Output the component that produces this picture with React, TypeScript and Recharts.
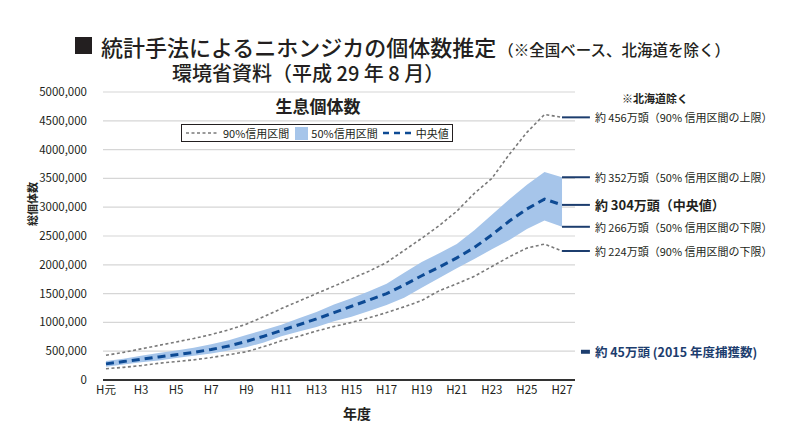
import React from "react";
import {
  ComposedChart,
  Area,
  Line,
  XAxis,
  YAxis,
  CartesianGrid,
  ReferenceLine,
  Label,
} from "recharts";

// ---- data ----
const years = [1, 2, 3, 4, 5, 6, 7, 8, 9, 10, 11, 12, 13, 14, 15, 16, 17, 18, 19, 20, 21, 22, 23, 24, 25, 26, 27];
const upper90 = [430000, 480000, 540000, 600000, 660000, 720000, 790000, 870000, 970000, 1100000, 1240000, 1370000, 1500000, 1630000, 1760000, 1890000, 2040000, 2250000, 2460000, 2680000, 2930000, 3240000, 3500000, 3920000, 4300000, 4610000, 4560000];
const upper50 = [330000, 370000, 420000, 470000, 510000, 560000, 620000, 690000, 780000, 870000, 960000, 1070000, 1180000, 1310000, 1420000, 1540000, 1670000, 1860000, 2050000, 2200000, 2360000, 2600000, 2870000, 3140000, 3390000, 3610000, 3520000];
const median = [280000, 320000, 360000, 400000, 440000, 480000, 530000, 590000, 670000, 760000, 860000, 960000, 1060000, 1170000, 1280000, 1390000, 1500000, 1650000, 1810000, 1960000, 2120000, 2300000, 2520000, 2760000, 2970000, 3140000, 3040000];
const lower50 = [230000, 270000, 310000, 340000, 380000, 420000, 460000, 510000, 570000, 650000, 760000, 840000, 920000, 1020000, 1100000, 1200000, 1300000, 1430000, 1600000, 1770000, 1940000, 2100000, 2270000, 2430000, 2620000, 2770000, 2660000];
const lower90 = [195000, 220000, 250000, 290000, 320000, 350000, 390000, 440000, 490000, 580000, 680000, 760000, 850000, 930000, 1000000, 1080000, 1170000, 1270000, 1380000, 1550000, 1670000, 1800000, 1970000, 2140000, 2290000, 2360000, 2240000];

const xTicks = [1, 3, 5, 7, 9, 11, 13, 15, 17, 19, 21, 23, 25, 27];
const xTickLabels = ["H元", "H3", "H5", "H7", "H9", "H11", "H13", "H15", "H17", "H19", "H21", "H23", "H25", "H27"];
const yTicks = [0, 500000, 1000000, 1500000, 2000000, 2500000, 3000000, 3500000, 4000000, 4500000, 5000000];

const endLabels = [
  { value: 4560000, text: "約 456万頭（90% 信用区間の上限）", bold: false },
  { value: 3520000, text: "約 352万頭（50% 信用区間の上限）", bold: false },
  { value: 3040000, text: "約 304万頭（中央値）", bold: true },
  { value: 2660000, text: "約 266万頭（50% 信用区間の下限）", bold: false },
  { value: 2240000, text: "約 224万頭（90% 信用区間の下限）", bold: false },
];
const captureValue = 490000;
const captureText = "約 45万頭 (2015 年度捕獲数)";

const data = years.map((y, i) => ({
  year: y,
  hi90: upper90[i],
  band: [lower50[i], upper50[i]],
  mid: median[i],
  lo90: lower90[i],
}));

const FONT = '"Noto Sans CJK JP", "Noto Sans", sans-serif';
const NAVY = "#1c3d6e";
const TEXT = "#231f20";

const fmtY = (v: number) => (v === 0 ? "0" : `${Math.round(v / 1000)},000`);
const fmtX = (v: number) => xTickLabels[xTicks.indexOf(v)] ?? "";

export default function App() {
  return (
    <div style={{ position: "absolute", left: 0, top: 0, width: 800, height: 438, background: "#fff", fontFamily: FONT, color: TEXT }}>
      {/* Title */}
      <div style={{ position: "absolute", left: 75, top: 37, width: 17, height: 17, background: TEXT }} />
      <div style={{ position: "absolute", left: 101, top: 35, whiteSpace: "nowrap", fontSize: 22, lineHeight: "23px", fontWeight: 500 }}>
        統計手法によるニホンジカの個体数推定
        <span style={{ fontSize: 15.5, marginLeft: 2 }}>（※全国ベース、北海道を除く）</span>
      </div>
      <div style={{ position: "absolute", left: 172, top: 62, whiteSpace: "nowrap", fontSize: 20, lineHeight: "21px", fontWeight: 500 }}>
        環境省資料（平成 29 年 8 月）
      </div>

      <ComposedChart
        width={800}
        height={438}
        data={data}
        margin={{ top: 92, right: 225, bottom: 28, left: 0 }}
        style={{ position: "absolute", left: 0, top: 0 }}
      >
        <CartesianGrid vertical={false} stroke="#d6d6d6" strokeWidth={1.2} />
        <XAxis
          dataKey="year"
          type="number"
          domain={[0.83, 27.74]}
          ticks={xTicks}
          tickFormatter={fmtX}
          interval={0}
          height={30}
          tickLine={false}
          tickMargin={0}
          axisLine={{ stroke: "#333", strokeWidth: 2 }}
          tick={{ fontSize: 11.5, fill: TEXT, fontFamily: FONT }}
        >
          <Label
            content={() => (
              <text x={357} y={413} textAnchor="middle" dominantBaseline="central" fontSize={14} fontWeight={700} fill={TEXT} fontFamily={FONT}>
                年度
              </text>
            )}
          />
        </XAxis>
        <YAxis
          type="number"
          domain={[0, 5000000]}
          ticks={yTicks}
          tickFormatter={fmtY}
          width={103}
          axisLine={false}
          tickLine={false}
          tickMargin={10}
          tick={{ fontSize: 11.5, fill: TEXT, fontFamily: FONT }}
        >
          <Label
            content={() => (
              <text x={32} y={204} transform="rotate(-90 32 204)" textAnchor="middle" dominantBaseline="central" fontSize={11} fontWeight={700} fill={TEXT} fontFamily={FONT}>
                総個体数
              </text>
            )}
          />
        </YAxis>

        <Area dataKey="band" stroke="none" fill="#a6c5ea" fillOpacity={1} isAnimationActive={false} dot={false} activeDot={false} />
        <Line dataKey="hi90" stroke="#7a7a7a" strokeWidth={1.6} strokeDasharray="3 2.5" dot={false} activeDot={false} isAnimationActive={false} />
        <Line dataKey="lo90" stroke="#7a7a7a" strokeWidth={1.6} strokeDasharray="3 2.5" dot={false} activeDot={false} isAnimationActive={false} />
        <Line dataKey="mid" stroke="#0d4a94" strokeWidth={3} strokeDasharray="8 5" dot={false} activeDot={false} isAnimationActive={false} />

        {endLabels.map((e) => (
          <ReferenceLine
            key={e.text}
            segment={[{ x: 27, y: e.value }, { x: 28.59, y: e.value }]}
            ifOverflow="visible"
            stroke={NAVY}
            strokeWidth={2}
            label={{
              content: (p: any) => {
                const vb = p.viewBox || {};
                return (
                  <text
                    x={(vb.x ?? 0) + (vb.width ?? 0) + 5}
                    y={vb.y ?? 0}
                    dominantBaseline="central"
                    fontSize={e.bold ? 13 : 11}
                    fontWeight={e.bold ? 700 : 400}
                    fill={TEXT}
                    fontFamily={FONT}
                  >
                    {e.text}
                  </text>
                );
              },
            }}
          />
        ))}
        <ReferenceLine
          segment={[{ x: 28.08, y: captureValue }, { x: 28.59, y: captureValue }]}
          ifOverflow="visible"
          stroke={NAVY}
          strokeWidth={4}
          label={{
            content: (p: any) => {
              const vb = p.viewBox || {};
              return (
                <text
                  x={(vb.x ?? 0) + (vb.width ?? 0) + 5}
                  y={vb.y ?? 0}
                  dominantBaseline="central"
                  fontSize={12.5}
                  fontWeight={700}
                  fill={NAVY}
                  fontFamily={FONT}
                >
                  {captureText}
                </text>
              );
            },
          }}
        />
      </ComposedChart>

      {/* chart title & note */}
      <div style={{ position: "absolute", left: 268, top: 95, width: 100, textAlign: "center", fontSize: 17, lineHeight: "22px", fontWeight: 700 }}>
        生息個体数
      </div>
      <div style={{ position: "absolute", left: 622, top: 90, fontSize: 11, lineHeight: "16px", fontWeight: 700, whiteSpace: "nowrap" }}>
        ※北海道除く
      </div>

      {/* legend */}
      <div
        style={{
          position: "absolute",
          left: 181,
          top: 124,
          width: 270,
          height: 16,
          border: `1px solid ${TEXT}`,
          background: "#fff",
          display: "flex",
          alignItems: "center",
          fontSize: 11,
          lineHeight: "16px",
          whiteSpace: "nowrap",
        }}
      >
        <svg width={34} height={10} style={{ marginLeft: 4 }}>
          <line x1={0} y1={5} x2={32} y2={5} stroke="#7a7a7a" strokeWidth={1.6} strokeDasharray="3 2.5" />
        </svg>
        <span style={{ marginLeft: 3 }}>90%信用区間</span>
        <span style={{ display: "inline-block", width: 13, height: 13, background: "#a6c5ea", marginLeft: 6 }} />
        <span style={{ marginLeft: 3 }}>50%信用区間</span>
        <svg width={32} height={10} style={{ marginLeft: 5 }}>
          <line x1={0} y1={5} x2={31} y2={5} stroke="#0d4a94" strokeWidth={2.5} strokeDasharray="6 5" />
        </svg>
        <span style={{ marginLeft: 1 }}>中央値</span>
      </div>
    </div>
  );
}
